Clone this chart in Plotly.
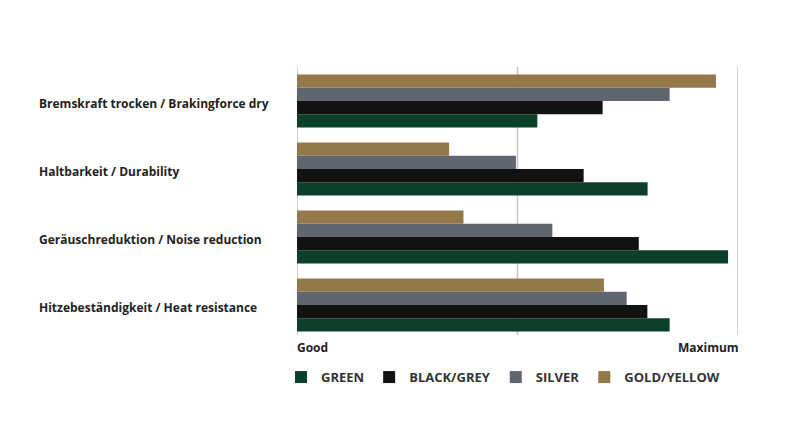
import plotly.graph_objects as go

categories = [
    "Bremskraft trocken / Brakingforce dry",
    "Haltbarkeit / Durability",
    "Geräuschreduktion / Noise reduction",
    "Hitzebeständigkeit / Heat resistance",
]
series_names = ["GREEN", "BLACK/GREY", "SILVER", "GOLD/YELLOW"]
green = [1.09, 1.59, 1.955, 1.69]
black_grey = [1.386, 1.30, 1.55, 1.589]
silver = [1.69, 0.993, 1.158, 1.495]
gold_yellow = [1.90, 0.69, 0.755, 1.392]
colors = ["#0c402b", "#141210", "#5f6670", "#94784a"]
x_tick_labels = ["Good", "Maximum"]
grid_positions = [0, 1, 2]

W, H = 800, 448
L, R, T, B = 297, 62, 67, 109
PW = W - L - R

LABEL_FONT = dict(family="Open Sans", size=12, color="#222222", weight="bold")

fig = go.Figure()
for name, vals, col in zip(series_names, [green, black_grey, silver, gold_yellow], colors):
    fig.add_trace(go.Bar(
        y=categories, x=vals, name=name, orientation="h",
        marker=dict(color=col, line=dict(width=0)),
    ))

annotations = []
for c in categories:
    annotations.append(dict(
        x=(37 - L) / PW, xref="paper", y=c, yref="y", yshift=-2,
        text=c, showarrow=False, xanchor="left", yanchor="middle",
        font=LABEL_FONT,
    ))
annotations.append(dict(x=grid_positions[0], xref="x", y=0, yref="paper", yshift=2, text=x_tick_labels[0],
                        showarrow=False, xanchor="left", yanchor="top", xshift=-2,
                        font=LABEL_FONT))
annotations.append(dict(x=grid_positions[-1], xref="x", y=0, yref="paper", yshift=2, text=x_tick_labels[1],
                        showarrow=False, xanchor="right", yanchor="top", xshift=3,
                        font=LABEL_FONT))

shapes = []
for gx in grid_positions:
    shapes.append(dict(type="line", xref="x", yref="paper", x0=gx, x1=gx, y0=0.015, y1=1.0,
                       line=dict(color="#c4c4c4", width=1.5), layer="below"))

fig.update_layout(
    width=W, height=H,
    margin=dict(l=L, r=R, t=T, b=B),
    paper_bgcolor="white", plot_bgcolor="white",
    barmode="group", bargap=0.22, bargroupgap=0,
    showlegend=True,
    legend=dict(orientation="h", x=-16 / PW, xanchor="left", y=-0.085, yanchor="top",
                font=dict(family="Open Sans", size=13, color="#333333", weight="bold"),
                traceorder="normal", itemclick=False),
    xaxis=dict(range=[0, 2], showticklabels=False, showgrid=False,
               zeroline=False, showline=False, ticks=""),
    yaxis=dict(categoryorder="array", categoryarray=list(reversed(categories)),
               showticklabels=False, showgrid=False, zeroline=False, showline=False, ticks=""),
    annotations=annotations,
    shapes=shapes,
)
fig.write_html("out.html")
